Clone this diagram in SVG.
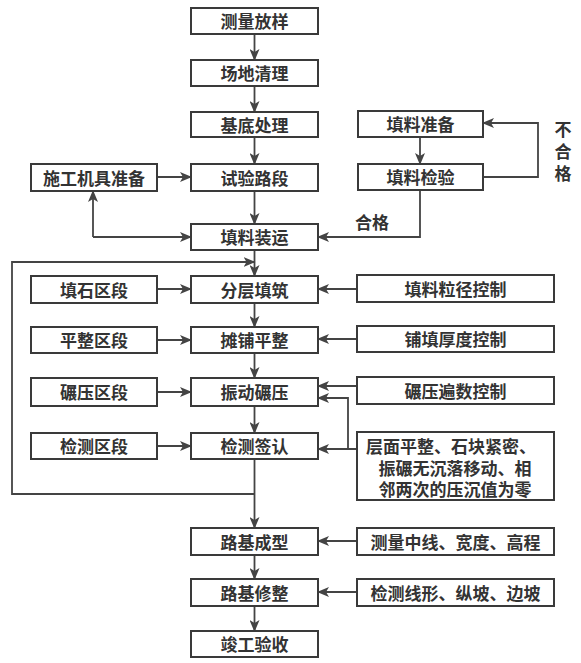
<svg xmlns="http://www.w3.org/2000/svg" width="581" height="663" viewBox="0 0 581 663">
<style>
.b{fill:#fff;stroke:#3a3a3a;stroke-width:2}
.t{font-family:"Liberation Sans","Noto Sans CJK SC","Noto Sans CJK JP",sans-serif;font-size:17px;font-weight:700;fill:#333;text-anchor:middle;dominant-baseline:central;transform:translateY(1.5px)}
.l{fill:none;stroke:#444;stroke-width:1.8}
</style>
<defs>
<marker id="a" viewBox="0 0 12 10" refX="11" refY="5" markerWidth="12" markerHeight="10" markerUnits="userSpaceOnUse" orient="auto">
<path d="M0,0 L12,5 L0,10 L3,5 Z" fill="#444"/>
</marker>
</defs>
<rect width="581" height="663" fill="#fff"/>
<g id="connectors">
<line class="l" x1="254.5" y1="34" x2="254.5" y2="60" marker-end="url(#a)"/>
<line class="l" x1="254.5" y1="86" x2="254.5" y2="112" marker-end="url(#a)"/>
<line class="l" x1="254.5" y1="137" x2="254.5" y2="164" marker-end="url(#a)"/>
<line class="l" x1="254.5" y1="191" x2="254.5" y2="224" marker-end="url(#a)"/>
<line class="l" x1="254.5" y1="250" x2="254.5" y2="276" marker-end="url(#a)"/>
<line class="l" x1="254.5" y1="303" x2="254.5" y2="327" marker-end="url(#a)"/>
<line class="l" x1="254.5" y1="353" x2="254.5" y2="378" marker-end="url(#a)"/>
<line class="l" x1="254.5" y1="406" x2="254.5" y2="433" marker-end="url(#a)"/>
<line class="l" x1="254.5" y1="459" x2="254.5" y2="528" marker-end="url(#a)"/>
<line class="l" x1="254.5" y1="555" x2="254.5" y2="579" marker-end="url(#a)"/>
<line class="l" x1="254.5" y1="606" x2="254.5" y2="631" marker-end="url(#a)"/>
<line class="l" x1="157" y1="177" x2="191" y2="177" marker-end="url(#a)"/>
<polyline class="l" points="93,237 93,191" marker-end="url(#a)"/>
<polyline class="l" points="93,237 191,237" marker-end="url(#a)"/>
<line class="l" x1="420" y1="137" x2="420" y2="164" marker-end="url(#a)"/>
<polyline class="l" points="483,177 538,177 538,123 483,123" marker-end="url(#a)"/>
<polyline class="l" points="420,190 420,237 318,237" marker-end="url(#a)"/>
<polyline class="l" points="254.5,494 12,494 12,262 254.5,262" marker-end="url(#a)"/>
<line class="l" x1="157" y1="289" x2="191" y2="289" marker-end="url(#a)"/>
<line class="l" x1="157" y1="340" x2="191" y2="340" marker-end="url(#a)"/>
<line class="l" x1="157" y1="392" x2="191" y2="392" marker-end="url(#a)"/>
<line class="l" x1="157" y1="446" x2="191" y2="446" marker-end="url(#a)"/>
<line class="l" x1="357" y1="289" x2="318" y2="289" marker-end="url(#a)"/>
<line class="l" x1="357" y1="339" x2="318" y2="339" marker-end="url(#a)"/>
<line class="l" x1="357" y1="386" x2="318" y2="386" marker-end="url(#a)"/>
<line class="l" x1="357" y1="449" x2="318" y2="449" marker-end="url(#a)"/>
<polyline class="l" points="348,449 348,398 318,398" marker-end="url(#a)"/>
<line class="l" x1="357" y1="541" x2="318" y2="541" marker-end="url(#a)"/>
<line class="l" x1="357" y1="592" x2="318" y2="592" marker-end="url(#a)"/>
<text class="t" x="372" y="222">合格</text>
<text class="t"><tspan x="563" y="128">不</tspan><tspan x="563" y="150">合</tspan><tspan x="563" y="172">格</tspan></text>
</g>
<g id="n1"><rect class="b" x="191" y="8" width="127" height="26"/><text class="t" x="254.5" y="21">测量放样</text></g>
<g id="n2"><rect class="b" x="191" y="60" width="127" height="26"/><text class="t" x="254.5" y="73">场地清理</text></g>
<g id="n3"><rect class="b" x="191" y="112" width="127" height="25"/><text class="t" x="254.5" y="124.5">基底处理</text></g>
<g id="n4"><rect class="b" x="191" y="164" width="127" height="27"/><text class="t" x="254.5" y="177.5">试验路段</text></g>
<g id="n5"><rect class="b" x="191" y="224" width="127" height="26"/><text class="t" x="254.5" y="237">填料装运</text></g>
<g id="n6"><rect class="b" x="191" y="276" width="127" height="27"/><text class="t" x="254.5" y="289.5">分层填筑</text></g>
<g id="n7"><rect class="b" x="191" y="327" width="127" height="26"/><text class="t" x="254.5" y="340">摊铺平整</text></g>
<g id="n8"><rect class="b" x="191" y="378" width="127" height="28"/><text class="t" x="254.5" y="392">振动碾压</text></g>
<g id="n9"><rect class="b" x="191" y="433" width="127" height="26"/><text class="t" x="254.5" y="446">检测签认</text></g>
<g id="n10"><rect class="b" x="191" y="528" width="127" height="27"/><text class="t" x="254.5" y="541.5">路基成型</text></g>
<g id="n11"><rect class="b" x="191" y="579" width="127" height="27"/><text class="t" x="254.5" y="592.5">路基修整</text></g>
<g id="n12"><rect class="b" x="191" y="631" width="127" height="26"/><text class="t" x="254.5" y="644">竣工验收</text></g>
<g id="l1"><rect class="b" x="31" y="164" width="126" height="27"/><text class="t" x="94" y="177.5">施工机具准备</text></g>
<g id="l2"><rect class="b" x="31" y="276" width="126" height="27"/><text class="t" x="94" y="289.5">填石区段</text></g>
<g id="l3"><rect class="b" x="31" y="327" width="126" height="26"/><text class="t" x="94" y="340">平整区段</text></g>
<g id="l4"><rect class="b" x="31" y="378" width="126" height="28"/><text class="t" x="94" y="392">碾压区段</text></g>
<g id="l5"><rect class="b" x="31" y="433" width="126" height="26"/><text class="t" x="94" y="446">检测区段</text></g>
<g id="r1"><rect class="b" x="358" y="111" width="125" height="26"/><text class="t" x="420.5" y="124">填料准备</text></g>
<g id="r2"><rect class="b" x="358" y="164" width="125" height="26"/><text class="t" x="420.5" y="177">填料检验</text></g>
<g id="r3"><rect class="b" x="357" y="275" width="197" height="27"/><text class="t" x="455.5" y="288.5">填料粒径控制</text></g>
<g id="r4"><rect class="b" x="357" y="326" width="197" height="26"/><text class="t" x="455.5" y="339">铺填厚度控制</text></g>
<g id="r5"><rect class="b" x="357" y="377" width="197" height="27"/><text class="t" x="455.5" y="390.5">碾压遍数控制</text></g>
<g id="r6"><rect class="b" x="357" y="432" width="197" height="68"/>
<text class="t"><tspan x="451" y="445">层面平整、石块紧密、</tspan><tspan x="455" y="467">振碾无沉落移动、相</tspan><tspan x="455" y="488">邻两次的压沉值为零</tspan></text></g>
<g id="r7"><rect class="b" x="357" y="528" width="197" height="27"/><text class="t" x="455.5" y="541.5">测量中线、宽度、高程</text></g>
<g id="r8"><rect class="b" x="357" y="579" width="197" height="27"/><text class="t" x="455.5" y="592.5">检测线形、纵坡、边坡</text></g>
</svg>
